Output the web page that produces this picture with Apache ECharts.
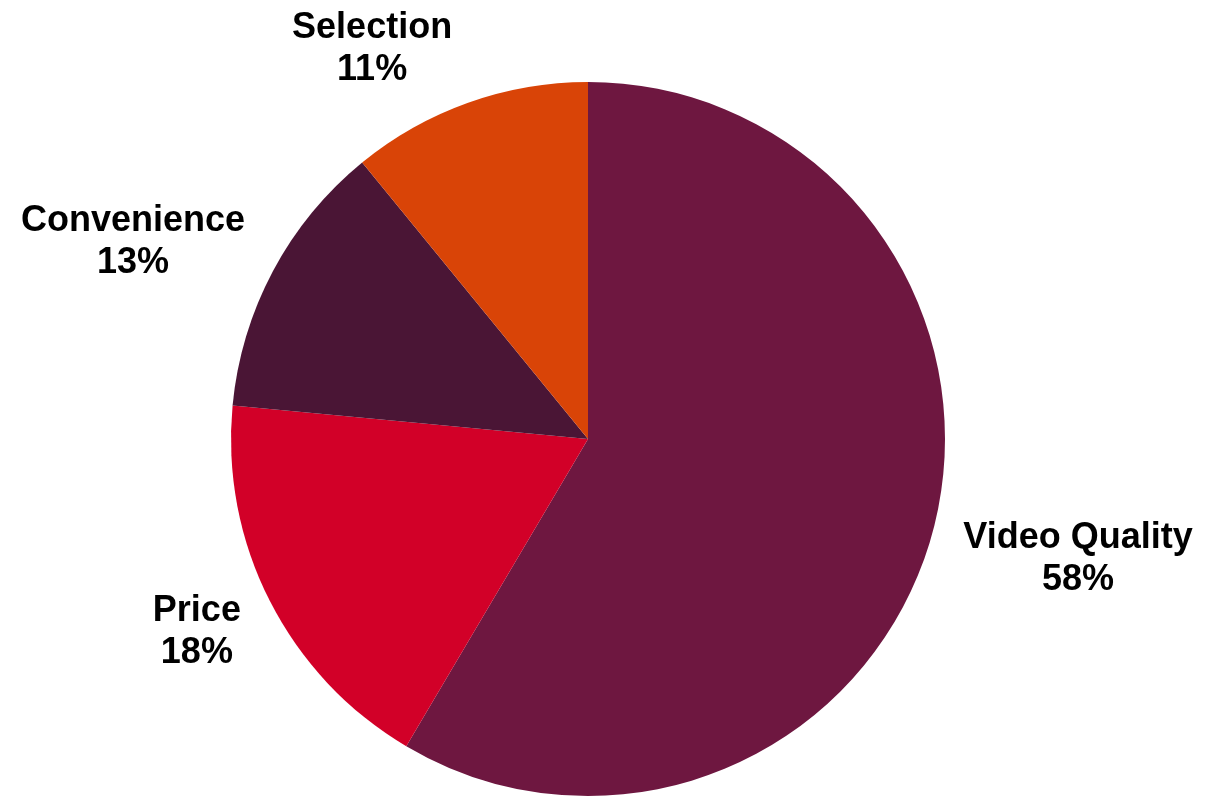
<!DOCTYPE html>
<html><head><meta charset="utf-8">
<script src="https://cdn.jsdelivr.net/npm/echarts@6/dist/echarts.min.js"></script>
<style>html,body{margin:0;padding:0;background:#fff}#c{width:1205px;height:796px}</style>
</head><body><div id="c"></div>
<script>
const categories = ['Video Quality', 'Price', 'Convenience', 'Selection'];
const values = [58.5, 18.0, 12.6, 10.9];
const colors = ['#6E1740', '#D20028', '#4A1535', '#D94407'];

const CX = 588, CY = 439, R = 357;
const gapX = [31, 29, 28, 16];
const shiftY = [26, 31, -29, -54];

const total = values.reduce((a, b) => a + b, 0);
const midAngles = [];
let acc = 0;
values.forEach(v => { midAngles.push((acc + v / 2) / total * 2 * Math.PI); acc += v; });

const chart = echarts.init(document.getElementById('c'), null, {renderer: 'canvas'});
chart.setOption({
  animation: false,
  backgroundColor: '#ffffff',
  series: [{
    type: 'pie',
    center: [CX, CY],
    radius: [0, R],
    startAngle: 90,
    clockwise: true,
    percentPrecision: 0,
    data: categories.map((n, i) => ({name: n, value: values[i], itemStyle: {color: colors[i]}})),
    itemStyle: {borderWidth: 0},
    label: {
      show: true,
      position: 'outside',
      formatter: '{b}\n{d}%',
      fontFamily: 'Liberation Sans, Arial, sans-serif',
      fontWeight: 'bold',
      fontSize: 36,
      lineHeight: 42,
      color: '#000',
      align: 'center'
    },
    labelLine: {show: false, length: 10, length2: 0},
    labelLayout: function (p) {
      const i = p.dataIndex;
      const a = midAngles[i];
      const dx = Math.sin(a), dy = -Math.cos(a);
      const px = CX + dx * R, py = CY + dy * R;
      const w = p.labelRect.width;
      const s = dx >= 0 ? 1 : -1;
      return {
        x: px + s * (gapX[i] + w / 2),
        y: py + shiftY[i],
        align: 'center',
        verticalAlign: 'middle'
      };
    }
  }]
});
</script></body></html>
